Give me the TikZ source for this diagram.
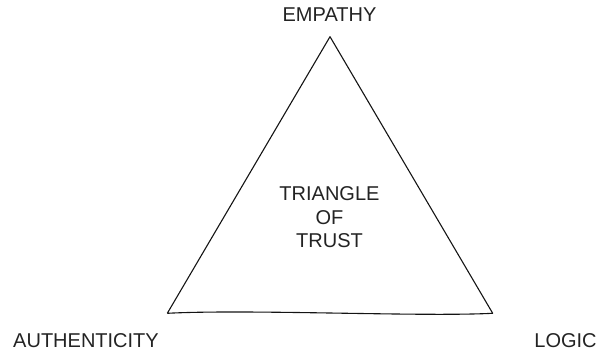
\documentclass[tikz,border=0pt]{standalone}
\usepackage{fontspec}
\setmainfont{Liberation Sans}
\usepackage{tikz}
\usetikzlibrary{positioning,calc}
\definecolor{inkline}{RGB}{20,20,20}
\definecolor{labeltext}{RGB}{35,35,35}
\tikzset{
  cornerlabel/.style={text=labeltext,font=\fontsize{20}{24}\selectfont,inner sep=0pt},
  centerlabel/.style={text=labeltext,font=\fontsize{20}{23.5}\selectfont,align=center,inner sep=0pt},
  sideline/.style={draw=inkline,line width=1.1pt,line join=round}
}
\begin{document}
\begin{tikzpicture}[x=1pt,y=1pt]
  \useasboundingbox (0,0) rectangle (604,352);
  \coordinate (top) at (330,315.3);
  \coordinate (left) at (167.3,38.7);
  \coordinate (right) at (492.7,38.7);
  \node[cornerlabel] (empathy) at (329.5,337.5) {EMPATHY};
  \node[cornerlabel] (authenticity) at (86,11.5) {AUTHENTICITY};
  \node[cornerlabel] (logic) at (565.5,11) {LOGIC};
  \node[centerlabel] (trust) at (329.5,134.7) {TRIANGLE\\OF\\TRUST};
  \draw[sideline] (left) -- (top) -- (right)
    .. controls (420,35) and (250,43) .. (left);
\end{tikzpicture}
\end{document}
